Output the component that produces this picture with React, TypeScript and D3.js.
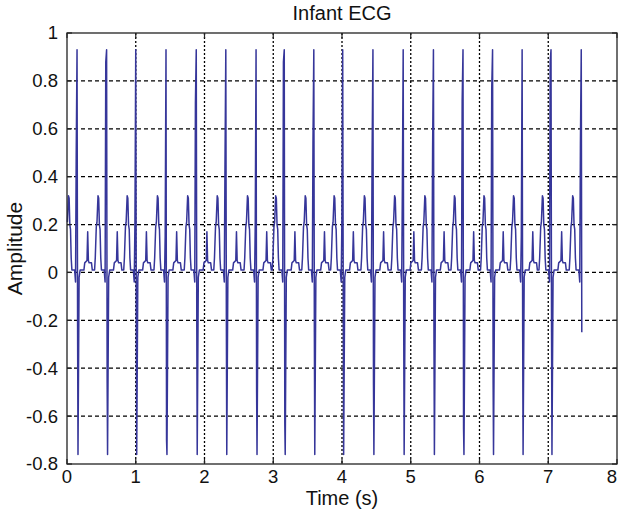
import React from "react";
import * as d3 from "d3";

// ---- data ----
const X_TICKS = [0, 1, 2, 3, 4, 5, 6, 7, 8];
const Y_TICKS = [-0.8, -0.6, -0.4, -0.2, 0, 0.2, 0.4, 0.6, 0.8, 1];

// R-peak times of each beat (s)
const BEAT_TIMES = [0.146, 0.576, 1.0, 1.44, 1.88, 2.31, 2.75, 3.16, 3.59, 4.01, 4.45, 4.89, 5.33, 5.76, 6.19, 6.62, 7.04, 7.48];
// R-peak amplitude of each beat
const R_PEAKS = [0.93, 0.93, 0.93, 0.93, 0.93, 0.93, 0.93, 0.93, 0.93, 0.93, 0.93, 0.93, 0.93, 0.93, 0.93, 0.93, 0.93, 0.93];
// S-trough amplitude of each beat
const S_TROUGHS = [-0.76, -0.76, -0.76, -0.76, -0.76, -0.76, -0.76, -0.76, -0.76, -0.76, -0.76, -0.76, -0.76, -0.76, -0.76, -0.76, -0.76, -0.76];
// sample on the R upstroke
const UP_STEPS = [0.49, 0.88, 0.2, 0.15, 0.71, 0.45, 0.2, 0.88, 0.55, 0.2, 0.5, 0.35, 0.52, 0.72, 0.77, 0.15, 0.88, 0.54];
// sample on the R->S downstroke
const DOWN_STEPS = [-0.22, -0.46, -0.2, -0.7, -0.23, -0.2, -0.49, -0.63, -0.25, -0.1, -0.47, -0.25, -0.3, -0.65, -0.45, -0.25, -0.25, -0.25];

// one-beat template: offsets from the R peak (s) and amplitudes; "R","S","UP","DOWN" are per-beat
const TEMPLATE_OFFSETS = [-0.175, -0.165, -0.15, -0.14, -0.125, -0.115, -0.105, -0.095, -0.085, -0.075, -0.035, -0.022, -0.012, 0, 0.008, 0.014, 0.03, 0.045, 0.1, 0.112, 0.145, 0.155, 0.165, 0.175, 0.21, 0.222];
const TEMPLATE_VALUES: (number | string)[] = [0.01, 0.06, 0.19, 0.21, 0.32, 0.31, 0.2, 0.18, 0.06, 0.01, 0.01, -0.04, "UP", "R", "DOWN", "S", -0.02, 0.01, 0.01, 0.04, 0.05, 0.17, 0.05, 0.04, 0.04, 0.01];

const SIGNAL_END = 7.49;

const W = 619;
const H = 514;
const M = { left: 67, top: 33, right: 617, bottom: 464 };

function buildSignal(): [number, number][] {
  const pts: [number, number][] = [];
  BEAT_TIMES.forEach((rt, i) => {
    TEMPLATE_OFFSETS.forEach((off, j) => {
      const tv = TEMPLATE_VALUES[j];
      let v: number;
      if (tv === "R") v = R_PEAKS[i];
      else if (tv === "S") v = S_TROUGHS[i];
      else if (tv === "UP") v = UP_STEPS[i];
      else if (tv === "DOWN") v = DOWN_STEPS[i];
      else v = tv as number;
      const t = rt + off;
      if (t >= 0 && t <= SIGNAL_END) pts.push([t, v]);
    });
  });
  return pts;
}

const FONT = "'Liberation Sans', Arial, Helvetica, sans-serif";

export default function App() {
  const x = d3.scaleLinear().domain([0, 8]).range([M.left, M.right]);
  const y = d3.scaleLinear().domain([-0.8, 1]).range([M.bottom, M.top]);
  const data = buildSignal();
  const line = d3
    .line<[number, number]>()
    .x((d) => x(d[0]))
    .y((d) => y(d[1]));
  const fmt = (v: number) => (Math.abs(v) < 1e-9 ? "0" : String(+v.toFixed(1)));
  const tickLen = 5;

  return (
    <svg
      width={W}
      height={H}
      style={{ position: "absolute", left: 0, top: 0, background: "#fff" }}
      fontFamily={FONT}
    >
      <rect x={0} y={0} width={W} height={H} fill="#fff" />
      {/* grid */}
      {X_TICKS.filter((t) => t > 0 && t < 8).map((t) => (
        <line
          key={"gx" + t}
          x1={x(t)}
          x2={x(t)}
          y1={M.top}
          y2={M.bottom}
          stroke="#000"
          strokeWidth={1.3}
          strokeDasharray="2,2"
        />
      ))}
      {Y_TICKS.filter((t) => t > -0.8 && t < 1).map((t) => (
        <line
          key={"gy" + t}
          x1={M.left}
          x2={M.right}
          y1={y(t)}
          y2={y(t)}
          stroke="#000"
          strokeWidth={1.3}
          strokeDasharray="4,3"
        />
      ))}
      {/* signal */}
      <path d={line(data) || ""} fill="none" stroke="#36369a" strokeWidth={1.5} strokeLinejoin="round" />
      {/* box */}
      <rect
        x={M.left}
        y={M.top}
        width={M.right - M.left}
        height={M.bottom - M.top}
        fill="none"
        stroke="#222"
        strokeWidth={1.3}
      />
      {/* ticks */}
      {X_TICKS.map((t) => (
        <g key={"xt" + t}>
          <line x1={x(t)} x2={x(t)} y1={M.bottom} y2={M.bottom - tickLen} stroke="#222" strokeWidth={1.2} />
          <line x1={x(t)} x2={x(t)} y1={M.top} y2={M.top + tickLen} stroke="#222" strokeWidth={1.2} />
          <text x={Math.min(x(t), 612)} y={483} textAnchor="middle" fontSize={18.5} fill="#111">
            {fmt(t)}
          </text>
        </g>
      ))}
      {Y_TICKS.map((t) => (
        <g key={"yt" + t}>
          <line x1={M.left} x2={M.left + tickLen} y1={y(t)} y2={y(t)} stroke="#222" strokeWidth={1.2} />
          <line x1={M.right} x2={M.right - tickLen} y1={y(t)} y2={y(t)} stroke="#222" strokeWidth={1.2} />
          <text x={58} y={y(t)} dy="0.35em" textAnchor="end" fontSize={18.5} fill="#111">
            {fmt(t)}
          </text>
        </g>
      ))}
      {/* title & labels */}
      <text x={(M.left + M.right) / 2} y={20} textAnchor="middle" fontSize={20} fill="#111">
        Infant ECG
      </text>
      <text x={(M.left + M.right) / 2} y={505} textAnchor="middle" fontSize={20} fill="#111">
        Time (s)
      </text>
      <text
        transform={`translate(22, ${(M.top + M.bottom) / 2}) rotate(-90)`}
        textAnchor="middle"
        fontSize={21}
        fill="#111"
      >
        Amplitude
      </text>
    </svg>
  );
}
